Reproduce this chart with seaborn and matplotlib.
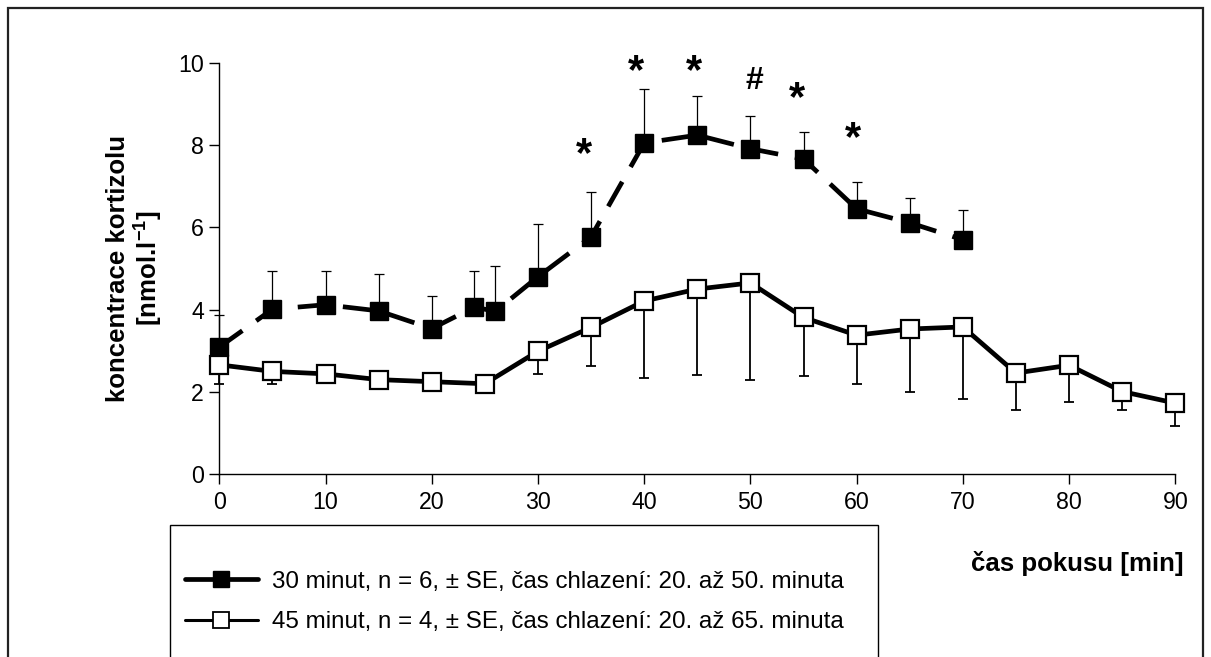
import numpy as np
import pandas as pd
import matplotlib
matplotlib.use("Agg")
import matplotlib.pyplot as plt
import matplotlib.transforms as mtransforms
from matplotlib.lines import Line2D
from matplotlib.patches import Rectangle
import seaborn as sns

# ---- data ----
time_30 = [0, 5, 10, 15, 20, 24, 26, 30, 35, 40, 45, 50, 55, 60, 65, 70]
mean_30 = [3.09, 4.01, 4.12, 3.97, 3.54, 4.06, 3.96, 4.80, 5.77, 8.05, 8.24, 7.91, 7.66, 6.45, 6.11, 5.70]
upper_30 = [3.88, 4.95, 4.95, 4.86, 4.32, 4.95, 5.05, 6.08, 6.85, 9.37, 9.18, 8.70, 8.31, 7.09, 6.71, 6.42]

time_45 = [0, 5, 10, 15, 20, 25, 30, 35, 40, 45, 50, 55, 60, 65, 70, 75, 80, 85, 90]
mean_45 = [2.66, 2.50, 2.44, 2.30, 2.25, 2.20, 2.99, 3.57, 4.21, 4.50, 4.65, 3.81, 3.38, 3.53, 3.58, 2.46, 2.65, 2.01, 1.73]
lower_45 = [2.19, 2.19, 2.22, 2.28, 2.23, 2.18, 2.43, 2.63, 2.34, 2.42, 2.28, 2.39, 2.19, 2.00, 1.84, 1.56, 1.76, 1.56, 1.17]

sig_x = [34.3, 39.2, 44.7, 50.4, 54.4, 59.7]
sig_y = [7.95, 9.96, 9.96, 9.64, 9.31, 8.34]
sig_txt = ["*", "*", "*", "#", "*", "*"]

label_30 = "30 minut, n = 6, ± SE, čas chlazení: 20. až 50. minuta"
label_45 = "45 minut, n = 4, ± SE, čas chlazení: 20. až 65. minuta"
xticks = [0, 10, 20, 30, 40, 50, 60, 70, 80, 90]
yticks = [0, 2, 4, 6, 8, 10]

df30 = pd.DataFrame({"t": time_30, "c": mean_30, "up": upper_30})
df45 = pd.DataFrame({"t": time_45, "c": mean_45, "lo": lower_45})

# ---- style ----
sns.set_style("ticks")
plt.rcParams["font.family"] = ["Liberation Sans", "DejaVu Sans"]
plt.rcParams["mathtext.fontset"] = "custom"
plt.rcParams["mathtext.rm"] = "Liberation Sans:bold"
plt.rcParams["mathtext.bf"] = "Liberation Sans:bold"
for k in ["text.color", "axes.labelcolor", "xtick.color", "ytick.color", "axes.edgecolor"]:
    plt.rcParams[k] = "black"
plt.rcParams["axes.linewidth"] = 1.0
plt.rcParams["xtick.major.width"] = 1.0
plt.rcParams["ytick.major.width"] = 1.0

W, H = 1211, 657
fig = plt.figure(figsize=(W / 100, H / 100), dpi=100)
ax = fig.add_axes([219.3 / W, 1 - 474.3 / H, (1175.3 - 219.3) / W, (474.3 - 62.7) / H])

TICK_FS = 16.7
LEG_FS = 17.4
LAB_FS = 18.6

# error bars (one-sided)
ax.errorbar(df30["t"], df30["c"], yerr=[np.zeros(len(df30)), df30["up"] - df30["c"]],
            fmt="none", ecolor="black", elinewidth=0.9, capsize=3.6, capthick=0.9, zorder=2, clip_on=False)
ax.errorbar(df45["t"], df45["c"], yerr=[df45["c"] - df45["lo"], np.zeros(len(df45))],
            fmt="none", ecolor="black", elinewidth=1.3, capsize=3.6, capthick=1.3, zorder=2, clip_on=False)

# lines
sns.lineplot(data=df30, x="t", y="c", ax=ax, color="black", linewidth=3.4,
             marker="s", markersize=13, markerfacecolor="black", markeredgecolor="black",
             markeredgewidth=1.0, zorder=3, clip_on=False, sort=False)
ax.lines[-1].set_dashes((6.0, 3.6))
sns.lineplot(data=df45, x="t", y="c", ax=ax, color="black", linewidth=3.4,
             marker="s", markersize=13, markerfacecolor="white", markeredgecolor="black",
             markeredgewidth=1.6, zorder=4, clip_on=False, sort=False)

for x, y, s in zip(sig_x, sig_y, sig_txt):
    fs = 30 if s == "*" else 23
    frac = 0.46 if s == "*" else 0.36
    tr = ax.transData + mtransforms.ScaledTranslation(0, -frac * fs / 72, fig.dpi_scale_trans)
    ax.text(x, y, s, ha="center", va="baseline", fontsize=fs,
            fontweight="bold", color="black", transform=tr)

ax.set_xlim(0, 90)
ax.set_ylim(0, 10)
ax.set_xticks(xticks)
ax.set_yticks(yticks)
ax.tick_params(axis="both", labelsize=TICK_FS, length=7, direction="out", colors="black")
ax.tick_params(axis="y", pad=4)
ax.tick_params(axis="x", pad=5)
sns.despine(ax=ax)
ax.set_xlabel("")
ax.set_ylabel("koncentrace kortizolu\n[nmol.l$^{\\mathbf{-1}}$]", fontsize=LAB_FS, fontweight="bold",
              multialignment="center", linespacing=1.05)
ax.yaxis.set_label_coords(-0.058, 0.5)

fig.text(1184 / W, 1 - 563 / H, "čas pokusu [min]", ha="right", va="center",
         fontsize=LAB_FS, fontweight="bold")

# legend
h30 = Line2D([], [], color="black", linewidth=3.4, marker="s", markersize=11,
             markerfacecolor="black", markeredgecolor="black")
h45 = Line2D([], [], color="black", linewidth=2.2, marker="s", markersize=11,
             markerfacecolor="white", markeredgecolor="black", markeredgewidth=1.3)
fig.legend([h30, h45], [label_30, label_45], loc="center left",
           bbox_to_anchor=(173 / W, 1 - 602 / H), frameon=False, fontsize=LEG_FS,
           handlelength=3.0, handletextpad=0.6, labelspacing=0.78, borderpad=0)

fig.add_artist(Rectangle((170 / W, -0.1), (878 - 170) / W, 0.1 + (657 - 525) / H,
                         transform=fig.transFigure, fill=False, edgecolor="black",
                         linewidth=1.0, clip_on=False))
fig.add_artist(Rectangle((7.5 / W, -0.1), (1203 - 7.5) / W, 0.1 + (657 - 8) / H,
                         transform=fig.transFigure, fill=False, edgecolor="#222222",
                         linewidth=1.6, clip_on=False))

fig.savefig("out.png", dpi=100)
